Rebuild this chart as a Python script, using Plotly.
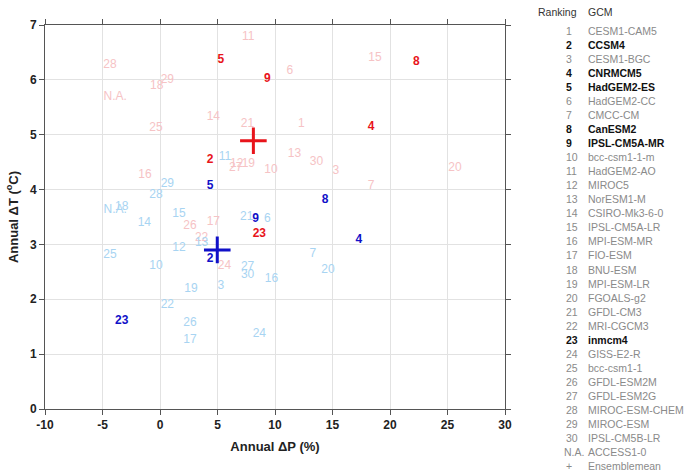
import plotly.graph_objects as go

# ---- data ----
# warm/wet (red family) projections: label, dP (%), dT (degC)
red_labels = ["1", "2", "3", "4", "5", "6", "7", "8", "9", "10", "11", "12", "13", "14", "15",
              "16", "17", "18", "19", "20", "21", "22", "23", "24", "25", "26", "27", "28", "29", "30", "N.A."]
red_dp = [12.3, 4.35, 15.3, 18.35, 5.3, 11.3, 18.35, 22.3, 9.33, 9.65, 7.68, 6.67, 11.7, 4.64, 18.7,
          -1.3, 4.64, -0.29, 7.68, 25.65, 7.6, 3.62, 8.64, 5.6, -0.35, 2.6, 6.58, -4.35, 0.64, 13.6, -3.9]
red_dt = [5.19, 4.54, 4.33, 5.14, 6.37, 6.17, 4.07, 6.32, 6.01, 4.36, 6.79, 4.47, 4.64, 5.33, 6.4,
          4.27, 3.41, 5.89, 4.46, 4.4, 5.2, 3.12, 3.19, 2.61, 5.12, 3.34, 4.39, 6.27, 6.0, 4.51, 5.69]

# cool/dry (blue family) projections
blue_labels = ["2", "3", "4", "5", "6", "7", "8", "9", "10", "11", "12", "13", "14", "15",
               "16", "17", "18", "19", "20", "21", "22", "23", "24", "25", "26", "27", "28", "29", "30", "N.A."]
blue_dp = [4.35, 5.3, 17.3, 4.35, 9.33, 13.3, 14.35, 8.32, -0.35, 5.65, 1.65, 3.62, -1.36, 1.65,
           9.7, 2.6, -3.33, 2.7, 14.6, 7.54, 0.64, -3.33, 8.64, -4.35, 2.6, 7.62, -0.35, 0.64, 7.62, -3.9]
blue_dt = [2.73, 2.25, 3.08, 4.07, 3.46, 2.83, 3.81, 3.46, 2.6, 4.6, 2.94, 3.02, 3.39, 3.56,
           2.37, 1.26, 3.69, 2.19, 2.54, 3.5, 1.9, 1.61, 1.37, 2.8, 1.57, 2.59, 3.9, 4.1, 2.45, 3.62]

selected = ["2", "4", "5", "8", "9", "23"]

ens_red = (8.12, 4.89)
ens_blue = (4.98, 2.9)

x_ticks = [-10, -5, 0, 5, 10, 15, 20, 25, 30]
y_ticks = [0, 1, 2, 3, 4, 5, 6, 7]

rank_labels = [str(i) for i in range(1, 31)] + ["N.A.", "+"]
gcm_names = ["CESM1-CAM5", "CCSM4", "CESM1-BGC", "CNRMCM5", "HadGEM2-ES", "HadGEM2-CC", "CMCC-CM",
             "CanESM2", "IPSL-CM5A-MR", "bcc-csm1-1-m", "HadGEM2-AO", "MIROC5", "NorESM1-M",
             "CSIRO-Mk3-6-0", "IPSL-CM5A-LR", "MPI-ESM-MR", "FIO-ESM", "BNU-ESM", "MPI-ESM-LR",
             "FGOALS-g2", "GFDL-CM3", "MRI-CGCM3", "inmcm4", "GISS-E2-R", "bcc-csm1-1", "GFDL-ESM2M",
             "GFDL-ESM2G", "MIROC-ESM-CHEM", "MIROC-ESM", "IPSL-CM5B-LR", "ACCESS1-0", "Ensemblemean"]

FONT = "Liberation Sans, Arial, Helvetica, sans-serif"
PINK = "#f6c3c5"
RED = "#e8141b"
LBLUE = "#a8d4f2"
DBLUE = "#1010c8"

fig = go.Figure()

def split(labels, xs, ys, sel):
    out = ([], [], [])
    for l, x, y in zip(labels, xs, ys):
        if (l in selected) == sel:
            out[0].append(l); out[1].append(x); out[2].append(y)
    return out

for labels, xs, ys, c_light, c_dark in [(red_labels, red_dp, red_dt, PINK, RED),
                                        (blue_labels, blue_dp, blue_dt, LBLUE, DBLUE)]:
    l, x, y = split(labels, xs, ys, False)
    fig.add_trace(go.Scatter(x=x, y=y, text=l, mode="text", textposition="middle center",
                             textfont=dict(family=FONT, size=12, color=c_light),
                             showlegend=False, hoverinfo="skip"))
for labels, xs, ys, c_light, c_dark in [(red_labels, red_dp, red_dt, PINK, RED),
                                        (blue_labels, blue_dp, blue_dt, LBLUE, DBLUE)]:
    l, x, y = split(labels, xs, ys, True)
    fig.add_trace(go.Scatter(x=x, y=y, text=["<b>%s</b>" % s for s in l], mode="text",
                             textposition="middle center",
                             textfont=dict(family=FONT, size=12, color=c_dark),
                             showlegend=False, hoverinfo="skip"))

for (px, py), c in [(ens_red, RED), (ens_blue, DBLUE)]:
    fig.add_trace(go.Scatter(x=[px], y=[py], mode="markers",
                             marker=dict(symbol="cross-thin", size=19, line=dict(color=c, width=3)),
                             showlegend=False, hoverinfo="skip"))

axis_common = dict(showgrid=True, gridcolor="#e2e2e2", gridwidth=1, zeroline=False,
                   showline=True, linecolor="#555", linewidth=1, mirror="ticks",
                   ticks="outside", ticklen=5, tickcolor="#555",
                   tickfont=dict(family=FONT, size=12, color="#222", weight="bold"))

fig.update_xaxes(range=[-10, 30], tickvals=x_ticks, ticktext=[str(v) for v in x_ticks],
                 title=dict(text="<b>Annual ΔP (%)</b>", font=dict(family=FONT, size=13, color="#222"),
                            standoff=10),
                 **axis_common)
fig.update_yaxes(range=[0, 7], tickvals=y_ticks, ticktext=[str(v) for v in y_ticks],
                 title=dict(text="<b>Annual ΔT (<sup>o</sup>C)</b>",
                            font=dict(family=FONT, size=13, color="#222"), standoff=8),
                 **axis_common)

W, H = 685, 474
ML, MR, MT, MB = 45, 180, 25, 65
pw, ph = W - ML - MR, H - MT - MB

def add_txt(px, py, text, color, anchor="left"):
    fig.add_annotation(x=(px - ML) / pw, y=1 - (py - MT) / ph, xref="paper", yref="paper",
                       text=text, showarrow=False, xanchor=anchor, yanchor="middle",
                       font=dict(family=FONT, size=10.5, color=color))

# ranking table on the right
row0 = 31
dy = 14.03
add_txt(579, 12, "Ranking", "#333", anchor="right")
add_txt(586, 12, "GCM", "#333")
for i, (r, g) in enumerate(zip(rank_labels, gcm_names)):
    bold = r in selected
    col = "#111" if bold else "#8a8a8a"
    ypix = row0 + i * dy
    rx = 562 if len(r) > 2 else 564
    add_txt(rx, ypix, ("<b>%s</b>" % r) if bold else r, col)
    add_txt(586, ypix, ("<b>%s</b>" % g) if bold else g, col)

fig.update_layout(width=W, height=H, margin=dict(l=ML, r=MR, t=MT, b=MB),
                  paper_bgcolor="white", plot_bgcolor="white",
                  font=dict(family=FONT))

fig.write_html("out.html", config={"displayModeBar": False},
               post_script="document.body.style.margin='0';document.body.style.overflow='hidden';")
